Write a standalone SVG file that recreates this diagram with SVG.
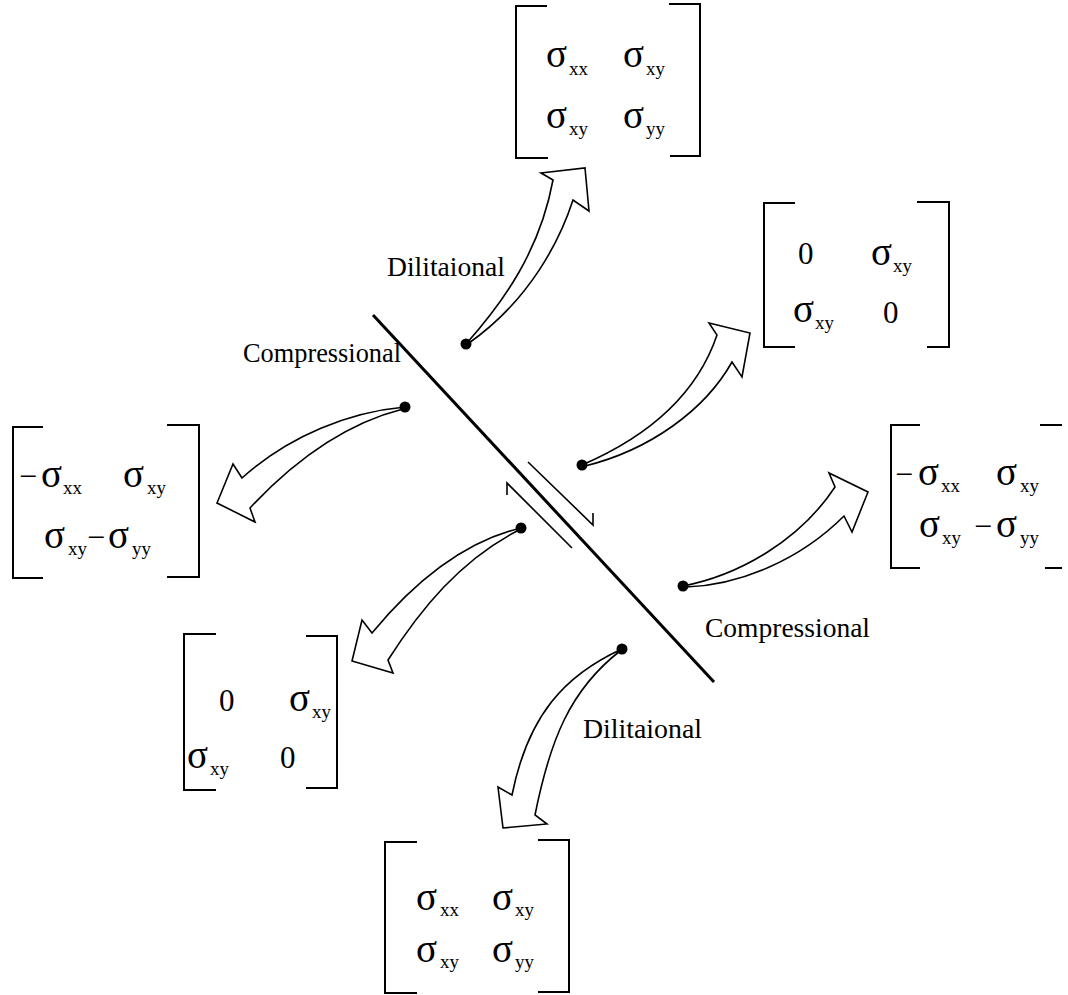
<svg xmlns="http://www.w3.org/2000/svg" width="1068" height="995" viewBox="0 0 1068 995">
<style>
.br{fill:none;stroke:#000;stroke-width:2}
.s{font-family:"Liberation Serif",serif;font-size:39px}
.sub{font-family:"Liberation Serif",serif;font-size:19px}
.z{font-family:"Liberation Serif",serif;font-size:31px}
.m{font-family:"Liberation Serif",serif;font-size:32px}
.lbl{font-family:"Liberation Serif",serif;font-size:27px}
.arr{fill:#fff;stroke:#000;stroke-width:1.6;stroke-linejoin:miter}
.dot{fill:#000}
</style>
<rect width="1068" height="995" fill="#fff"/>

<g id="fault">
<path d="M373,315 L714,682" stroke="#000" stroke-width="3" fill="none"/>
<path d="M528,462 L593,525 L593,513" stroke="#000" stroke-width="1.6" fill="none"/>
<path d="M507,495 L507,483 L572,548" stroke="#000" stroke-width="1.6" fill="none"/>
</g>

<g id="connectors">
<path class="arr" d="M466,344 C505,300 540,250 553,180 L541,173 L585,168 L589,211 L573,200 C560,240 530,300 469,343 Z"/>
<path class="arr" d="M405,407 C350,412 290,435 242,478 L233,464 L217,503 L255,522 L250,508 C290,465 340,425 403,409 Z"/>
<path class="arr" d="M582,465 C640,440 695,400 717,335 L709,323 L750,333 L742,377 L732,362 C705,410 650,450 585,466 Z"/>
<path class="arr" d="M683,586 C740,575 800,540 835,487 L829,473 L868,492 L852,532 L844,516 C800,560 740,585 686,587 Z"/>
<path class="arr" d="M521,528 C470,540 420,575 372,633 L362,620 L352,661 L393,673 L388,660 C420,610 460,560 519,530 Z"/>
<path class="arr" d="M622,649 C565,675 528,715 512,795 L498,787 L503,828 L547,824 L535,815 C550,740 570,690 620,651 Z"/>
<circle class="dot" cx="466" cy="344" r="5.5"/>
<circle class="dot" cx="405" cy="407" r="5.5"/>
<circle class="dot" cx="582" cy="465" r="5.5"/>
<circle class="dot" cx="683" cy="586" r="5.5"/>
<circle class="dot" cx="521" cy="528" r="5.5"/>
<circle class="dot" cx="622" cy="649" r="5.5"/>
</g>

<g id="labels">
<text class="lbl" x="387" y="276" textLength="118" lengthAdjust="spacingAndGlyphs">Dilitaional</text>
<text class="lbl" x="243" y="362" textLength="158" lengthAdjust="spacingAndGlyphs">Compressional</text>
<text class="lbl" x="705" y="637" textLength="165" lengthAdjust="spacingAndGlyphs">Compressional</text>
<text class="lbl" x="583" y="738" textLength="119" lengthAdjust="spacingAndGlyphs">Dilitaional</text>
</g>

<g id="matrix-top">
<path class="br" d="M547,6 L516,6 L516,158 L548,158"/>
<path class="br" d="M669,4 L700,4 L700,156 L670,156"/>
<text class="s" x="546" y="67">σ</text><text class="sub" x="569" y="75">xx</text>
<text class="s" x="623" y="67">σ</text><text class="sub" x="646" y="75">xy</text>
<text class="s" x="546" y="128">σ</text><text class="sub" x="569" y="135">xy</text>
<text class="s" x="623" y="128">σ</text><text class="sub" x="646" y="135">yy</text>
</g>

<g id="matrix-upper-right">
<path class="br" d="M795,203 L764,203 L764,347 L795,347"/>
<path class="br" d="M917,202 L949,202 L949,347 L927,347"/>
<text class="z" x="798" y="264">0</text>
<text class="s" x="871" y="265">σ</text><text class="sub" x="893" y="272">xy</text>
<text class="s" x="793" y="322">σ</text><text class="sub" x="815" y="329">xy</text>
<text class="z" x="883" y="323">0</text>
</g>

<g id="matrix-left">
<path class="br" d="M43,427 L13,427 L13,578 L43,578"/>
<path class="br" d="M167,425 L199,425 L199,577 L167,577"/>
<text class="m" x="19" y="487">−</text><text class="s" x="41" y="487">σ</text><text class="sub" x="63" y="494">xx</text>
<text class="s" x="123" y="487">σ</text><text class="sub" x="147" y="494">xy</text>
<text class="s" x="44" y="548">σ</text><text class="sub" x="68" y="555">xy</text>
<text class="m" x="87" y="548">−</text><text class="s" x="108" y="548">σ</text><text class="sub" x="132" y="555">yy</text>
</g>

<g id="matrix-right">
<path class="br" d="M920,425 L891,425 L891,568 L920,568"/>
<path class="br" d="M1040,425 L1062,425"/>
<path class="br" d="M1045,568 L1062,568"/>
<text class="m" x="895" y="485">−</text><text class="s" x="918" y="485">σ</text><text class="sub" x="941" y="492">xx</text>
<text class="s" x="996" y="485">σ</text><text class="sub" x="1020" y="492">xy</text>
<text class="s" x="919" y="537">σ</text><text class="sub" x="942" y="544">xy</text>
<text class="m" x="974" y="537">−</text><text class="s" x="996" y="537">σ</text><text class="sub" x="1020" y="544">yy</text>
</g>

<g id="matrix-lower-left">
<path class="br" d="M216,634 L184,634 L184,790 L216,790"/>
<path class="br" d="M306,636 L337,636 L337,788 L306,788"/>
<text class="z" x="219" y="711">0</text>
<text class="s" x="289" y="711">σ</text><text class="sub" x="312" y="718">xy</text>
<text class="s" x="187" y="768">σ</text><text class="sub" x="210" y="775">xy</text>
<text class="z" x="280" y="768">0</text>
</g>

<g id="matrix-bottom">
<path class="br" d="M417,842 L385,842 L385,993 L417,993"/>
<path class="br" d="M538,840 L569,840 L569,992 L538,992"/>
<text class="s" x="416" y="910">σ</text><text class="sub" x="440" y="916">xx</text>
<text class="s" x="492" y="910">σ</text><text class="sub" x="515" y="916">xy</text>
<text class="s" x="416" y="962">σ</text><text class="sub" x="440" y="968">xy</text>
<text class="s" x="492" y="962">σ</text><text class="sub" x="515" y="968">yy</text>
</g>
</svg>
